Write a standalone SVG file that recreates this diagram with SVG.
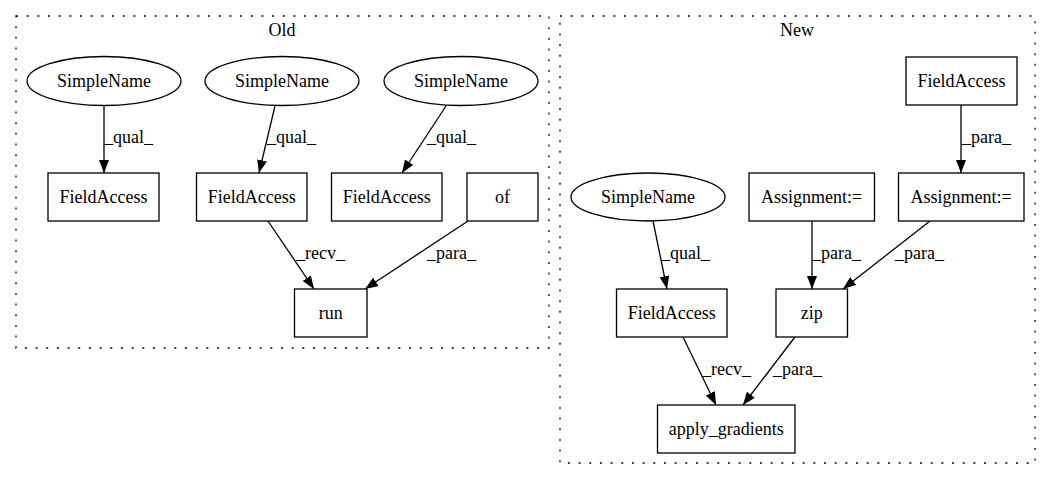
<svg xmlns="http://www.w3.org/2000/svg" width="1051" height="480" viewBox="0 0 1051 480">
<defs>
<style>
text{font-family:"Liberation Serif","Times New Roman",serif;font-size:18px;fill:#000}
.c{text-anchor:middle}
.n{fill:#fff;stroke:#000;stroke-width:1.3}
.cl{fill:none;stroke:#000;stroke-width:1.3;stroke-dasharray:2,8.67}
.e{fill:none;stroke:#000;stroke-width:1.3;marker-end:url(#a)}
</style>
<marker id="a" viewBox="0 0 13 10" refX="13" refY="5" markerWidth="13" markerHeight="10" markerUnits="userSpaceOnUse" orient="auto">
<path d="M0,0 L13,5 L0,10 z" fill="#000"/>
</marker>
</defs>
<rect width="1051" height="480" fill="#fff"/>
<g id="cluster_old">
<rect class="cl" x="16" y="16" width="533" height="332"/>
<text class="c" x="282" y="36">Old</text>
</g>
<g id="cluster_new">
<rect class="cl" x="560" y="16" width="475" height="447"/>
<text class="c" x="797" y="36">New</text>
</g>
<g id="connectors">
<line class="e" x1="104" y1="106" x2="104" y2="173"/>
<text x="104" y="143">_qual_</text>
<line class="e" x1="275" y1="106" x2="259" y2="173"/>
<text x="267" y="143">_qual_</text>
<line class="e" x1="446" y1="106" x2="402" y2="173"/>
<text x="427" y="143">_qual_</text>
<line class="e" x1="268" y1="221" x2="314" y2="289"/>
<text x="296" y="259">_recv_</text>
<line class="e" x1="468" y1="221" x2="365" y2="289"/>
<text x="427" y="259">_para_</text>
<line class="e" x1="961" y1="105" x2="961" y2="173"/>
<text x="962" y="143">_para_</text>
<line class="e" x1="812" y1="221" x2="812" y2="289"/>
<text x="812" y="259">_para_</text>
<line class="e" x1="930" y1="221" x2="843" y2="289"/>
<text x="895" y="259">_para_</text>
<line class="e" x1="653" y1="221" x2="667" y2="289"/>
<text x="661" y="259">_qual_</text>
<line class="e" x1="683" y1="337" x2="716" y2="405"/>
<text x="702" y="375">_recv_</text>
<line class="e" x1="795" y1="337" x2="743" y2="405"/>
<text x="773" y="375">_para_</text>
</g>
<g id="old_simplename1"><ellipse class="n" cx="104" cy="81" rx="77" ry="24.5"/><text class="c" x="104" y="87">SimpleName</text></g>
<g id="old_simplename2"><ellipse class="n" cx="282" cy="81" rx="77" ry="24.5"/><text class="c" x="282" y="87">SimpleName</text></g>
<g id="old_simplename3"><ellipse class="n" cx="461" cy="81" rx="77" ry="24.5"/><text class="c" x="461" y="87">SimpleName</text></g>
<g id="old_fieldaccess1"><rect class="n" x="48" y="173" width="111" height="48"/><text class="c" x="103.5" y="203">FieldAccess</text></g>
<g id="old_fieldaccess2"><rect class="n" x="196.5" y="173" width="110.5" height="48"/><text class="c" x="251.7" y="203">FieldAccess</text></g>
<g id="old_fieldaccess3"><rect class="n" x="331.5" y="173" width="110.5" height="48"/><text class="c" x="386.7" y="203">FieldAccess</text></g>
<g id="old_of"><rect class="n" x="467" y="173" width="71" height="48"/><text class="c" x="502.5" y="203">of</text></g>
<g id="old_run"><rect class="n" x="294.5" y="289" width="72.5" height="48"/><text class="c" x="330.7" y="319">run</text></g>
<g id="new_fieldaccess_top"><rect class="n" x="906" y="57" width="111" height="48"/><text class="c" x="961.5" y="87">FieldAccess</text></g>
<g id="new_assignment1"><rect class="n" x="749" y="173" width="125.5" height="48"/><text class="c" x="811.7" y="203">Assignment:=</text></g>
<g id="new_assignment2"><rect class="n" x="898.5" y="173" width="125.5" height="48"/><text class="c" x="961.2" y="203">Assignment:=</text></g>
<g id="new_simplename"><ellipse class="n" cx="648" cy="197" rx="77" ry="24"/><text class="c" x="648" y="203">SimpleName</text></g>
<g id="new_fieldaccess"><rect class="n" x="616.5" y="289" width="110.5" height="48"/><text class="c" x="671.7" y="319">FieldAccess</text></g>
<g id="new_zip"><rect class="n" x="776" y="289" width="71.5" height="48"/><text class="c" x="811.7" y="319">zip</text></g>
<g id="new_apply_gradients"><rect class="n" x="657.5" y="405" width="137.5" height="48"/><text class="c" x="726.2" y="435">apply_gradients</text></g>
</svg>
